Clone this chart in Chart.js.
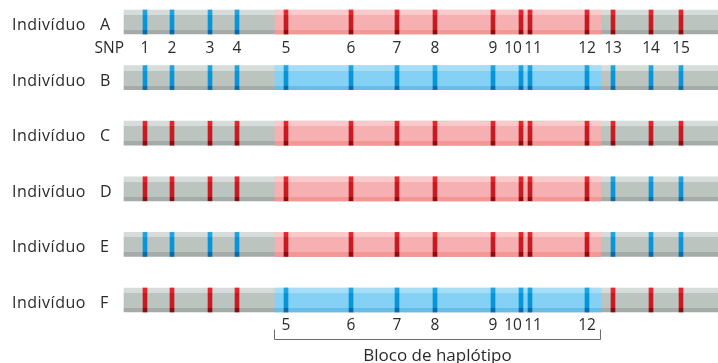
<!DOCTYPE html>
<html>
<head>
<meta charset="utf-8">
<script src="https://cdn.jsdelivr.net/npm/chart.js@4"></script>
<style>
  html, body { margin: 0; padding: 0; background: #ffffff; }
  #wrap { width: 718px; height: 363px; }
</style>
</head>
<body>
<div id="wrap"><canvas id="c" width="718" height="363"></canvas></div>
<script>
// ---- data ----
const individuals = ['A', 'B', 'C', 'D', 'E', 'F'];
const snpNumbers = [1, 2, 3, 4, 5, 6, 7, 8, 9, 10, 11, 12, 13, 14, 15];
// SNP positions along the chromosome segment (arbitrary units)
const snpPositions = [21, 48, 86, 113, 162, 227, 273, 311, 369, 397, 406, 463, 489, 527, 557];
const segmentRange = [0, 594];
const haplotypeBlock = [151, 477];
const blockSnps = [5, 6, 7, 8, 9, 10, 11, 12];
// allele of each SNP per individual (B = blue allele, R = red allele)
const allelesA = ['B','B','B','B','R','R','R','R','R','R','R','R','R','R','R'];
const allelesB = ['B','B','B','B','B','B','B','B','B','B','B','B','B','B','B'];
const allelesC = ['R','R','R','R','R','R','R','R','R','R','R','R','R','R','R'];
const allelesD = ['R','R','R','R','R','R','R','R','R','R','R','R','B','B','B'];
const allelesE = ['B','B','B','B','R','R','R','R','R','R','R','R','B','B','B'];
const allelesF = ['R','R','R','R','B','B','B','B','B','B','B','B','R','R','R'];
const rowLabel = 'Indivíduo';
const blockLabel = 'Bloco de haplótipo';

const alleleTable = [allelesA, allelesB, allelesC, allelesD, allelesE, allelesF];
const blockAllele = alleleTable.map(a => a[snpNumbers.indexOf(blockSnps[0])]);

// ---- styles ----
const BAR_H = 24;
const palette = {
  grey:  ['#d5dcd9', '#bcc4c0', '#a4aba8'],
  pinkBlock: ['#fac9c9', '#f7b0b1', '#f39694'],
  blueBlock: ['#a8ddf6', '#84d1f5', '#66bde8'],
  R: ['#e8232b', '#c71a21', '#8c0c12'],
  B: ['#1ba4e4', '#0695d9', '#0a6aa8']
};

function stripGradient(ctx, cols) {
  const chart = ctx.chart;
  if (!chart.chartArea) return cols[1];
  const yc = chart.scales.y.getPixelForValue(ctx.dataIndex);
  const top = yc - BAR_H / 2, bot = yc + BAR_H / 2;
  const g = chart.ctx.createLinearGradient(0, top, 0, bot);
  const t1 = 5 / BAR_H, t2 = (BAR_H - 4) / BAR_H;
  g.addColorStop(0, cols[0]);
  g.addColorStop(t1, cols[0]);
  g.addColorStop(t1, cols[1]);
  g.addColorStop(t2, cols[1]);
  g.addColorStop(t2, cols[2]);
  g.addColorStop(1, cols[2]);
  return g;
}

const datasets = [];
datasets.push({
  label: 'segment',
  data: individuals.map(() => segmentRange),
  backgroundColor: ctx => stripGradient(ctx, palette.grey),
  order: 2
});
datasets.push({
  label: 'block',
  data: individuals.map(() => haplotypeBlock),
  backgroundColor: ctx => stripGradient(ctx, blockAllele[ctx.dataIndex] === 'R' ? palette.pinkBlock : palette.blueBlock),
  order: 1
});
snpPositions.forEach((p, i) => {
  datasets.push({
    label: 'SNP ' + snpNumbers[i],
    data: individuals.map(() => [p - 2, p + 2]),
    backgroundColor: ctx => stripGradient(ctx, palette[alleleTable[ctx.dataIndex][i]]),
    order: 0
  });
});

const labelNudge = { 10: -8, 11: 3 };

const textPlugin = {
  id: 'texts',
  afterDraw(chart) {
    const ctx = chart.ctx;
    const xs = chart.scales.x, ys = chart.scales.y;
    ctx.save();
    ctx.fillStyle = '#2a2a2a';
    ctx.textBaseline = 'alphabetic';
    individuals.forEach((ind, i) => {
      const y = ys.getPixelForValue(i) + 8;
      ctx.textAlign = 'left';
      ctx.font = '16px "Open Sans"';
      ctx.letterSpacing = '0.5px';
      ctx.fillText(rowLabel, 12, y);
      ctx.letterSpacing = '0px';
      ctx.fillText(ind, 100, y);
    });
    ctx.font = '15.5px "Open Sans"';
    // SNP numbers under individual A
    const yA = ys.getPixelForValue(0) + 31;
    ctx.textAlign = 'right';
    ctx.fillText('SNP', 124, yA);
    ctx.textAlign = 'center';
    snpNumbers.forEach((n, i) => {
      ctx.fillText(String(n), xs.getPixelForValue(snpPositions[i]) + (labelNudge[n] || 0), yA);
    });
    // block SNP numbers under individual F
    const yF = ys.getPixelForValue(individuals.length - 1) + 30;
    blockSnps.forEach(n => {
      const i = snpNumbers.indexOf(n);
      ctx.fillText(String(n), xs.getPixelForValue(snpPositions[i]) + (labelNudge[n] || 0), yF);
    });
    // bracket
    const x0 = Math.round(xs.getPixelForValue(haplotypeBlock[0])) - 0.5;
    const x1 = Math.round(xs.getPixelForValue(haplotypeBlock[1])) - 0.5;
    const yb = Math.round(yF + 9) + 0.5;
    ctx.strokeStyle = '#6b6b6b';
    ctx.lineWidth = 1;
    ctx.beginPath();
    ctx.moveTo(x0, yb - 10);
    ctx.lineTo(x0, yb);
    ctx.lineTo(x1, yb);
    ctx.lineTo(x1, yb - 10);
    ctx.stroke();
    ctx.font = '17px "Open Sans"';
    ctx.fillText(blockLabel, (x0 + x1) / 2, yb + 21);
    ctx.restore();
  }
};

new Chart(document.getElementById('c'), {
  type: 'bar',
  data: { labels: individuals, datasets },
  options: {
    indexAxis: 'y',
    responsive: false,
    animation: false,
    events: [],
    layout: { padding: { left: 124, right: 0, top: 22, bottom: 63 } },
    datasets: { bar: { grouped: false, barThickness: BAR_H, borderWidth: 0, borderSkipped: false, clip: false } },
    plugins: { legend: { display: false }, tooltip: { enabled: false } },
    scales: {
      x: { type: 'linear', min: segmentRange[0], max: segmentRange[1], display: false },
      y: { type: 'category', offset: false, display: false }
    }
  },
  plugins: [textPlugin]
});
</script>
</body>
</html>
